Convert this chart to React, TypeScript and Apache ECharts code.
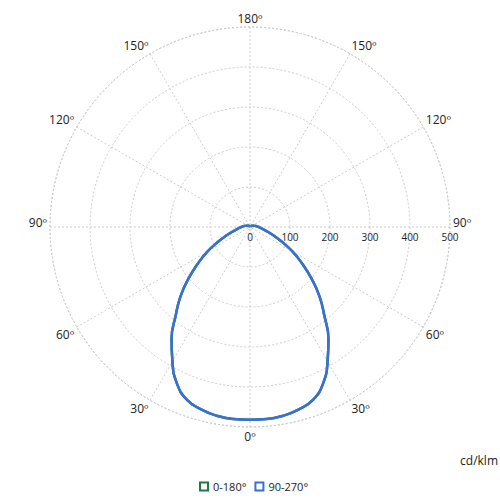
import { useEffect, useRef } from "react";
import * as echarts from "echarts";

// ángulos gamma (0º = abajo, 180º = arriba) y valores en cd/klm
const gammaAngles = [
  0, 5, 10, 15, 20, 25, 30, 35, 40, 45, 50, 55, 60, 65, 70, 75, 80, 85, 90,
  95, 100, 110, 120, 130, 140, 150, 160, 170, 180,
];
const plane0_180 = [
  482, 482, 479, 472, 460, 432, 388, 342, 289, 246, 201, 159, 123, 89, 64, 46, 34, 27, 22,
  18, 14, 9, 6, 4, 3, 2, 2, 2, 2,
];
const plane90_270 = [
  482, 482, 479, 472, 460, 432, 388, 342, 289, 246, 201, 159, 123, 89, 64, 46, 34, 27, 22,
  18, 14, 9, 6, 4, 3, 2, 2, 2, 2,
];
const seriesNames = ["0-180°", "90-270°"];
const seriesColors = ["#1e7b3c", "#3a6fd8"];

// convierte gamma a ángulo del eje (0 = derecha, sentido horario)
const toAxis = (g: number, left: boolean) => (left ? 90 + g : (450 - g) % 360);

const curve = (vals: number[]) => {
  const pts: [number, number][] = [];
  for (let i = gammaAngles.length - 1; i >= 0; i--) pts.push([vals[i], toAxis(gammaAngles[i], true)]);
  for (let i = 1; i < gammaAngles.length; i++) pts.push([vals[i], toAxis(gammaAngles[i], false)]);
  return pts;
};

const labelOf = (a: number) => {
  let g: number;
  if (a <= 90) g = 90 - a;
  else if (a <= 270) g = a - 90;
  else g = 450 - a;
  // el 90º va un poco más arriba, como en el original
  return g === 90 ? `{up|${g}º}` : `${g}º`;
};

export default function App() {
  const ref = useRef<HTMLDivElement>(null);

  useEffect(() => {
    if (!ref.current) return;
    const chart = echarts.init(ref.current, undefined, { renderer: "svg" });
    const grid = { color: "#cccccc", type: [2, 2] as number[], width: 1 };
    chart.setOption({
      animation: false,
      backgroundColor: "#fff",
      textStyle: { fontFamily: "Open Sans" },
      polar: { center: [250, 227], radius: 200 },
      angleAxis: {
        type: "value",
        min: 0,
        max: 360,
        interval: 30,
        startAngle: 0,
        clockwise: true,
        axisLine: { show: true, lineStyle: grid },
        axisTick: { show: false },
        axisLabel: {
          formatter: labelOf,
          margin: 3,
          color: "#222",
          fontSize: 12,
          rich: { up: { fontSize: 12, color: "#222", padding: [0, 0, 10, 0] } },
        },
        splitLine: { show: true, lineStyle: grid },
      },
      radiusAxis: {
        type: "value",
        min: 0,
        max: 500,
        interval: 100,
        axisLine: { show: false },
        axisTick: { show: false },
        axisLabel: { color: "#222", fontSize: 10, margin: -5, verticalAlign: "top" },
        splitLine: { show: true, lineStyle: grid },
      },
      legend: {
        left: 194,
        top: 476,
        itemWidth: 8,
        itemHeight: 8,
        itemGap: 8,
        icon: "rect",
        textStyle: { fontSize: 11, color: "#222" },
        data: seriesNames.map((name, i) => ({
          name,
          itemStyle: { color: "#fff", borderColor: seriesColors[i], borderWidth: 2 },
        })),
      },
      graphic: [
        {
          type: "text",
          right: 2,
          top: 454,
          style: { text: "cd/klm", fontSize: 12, fill: "#222", fontFamily: "Open Sans" },
        },
      ],
      series: [plane0_180, plane90_270].map((vals, i) => ({
        name: seriesNames[i],
        type: "line",
        coordinateSystem: "polar",
        showSymbol: false,
        smooth: true,
        lineStyle: { width: 2.5, color: seriesColors[i] },
        itemStyle: { color: seriesColors[i] },
        data: curve(vals),
      })),
    });
    return () => chart.dispose();
  }, []);

  return <div ref={ref} style={{ position: "fixed", left: 0, top: 0, width: 500, height: 500 }} />;
}
